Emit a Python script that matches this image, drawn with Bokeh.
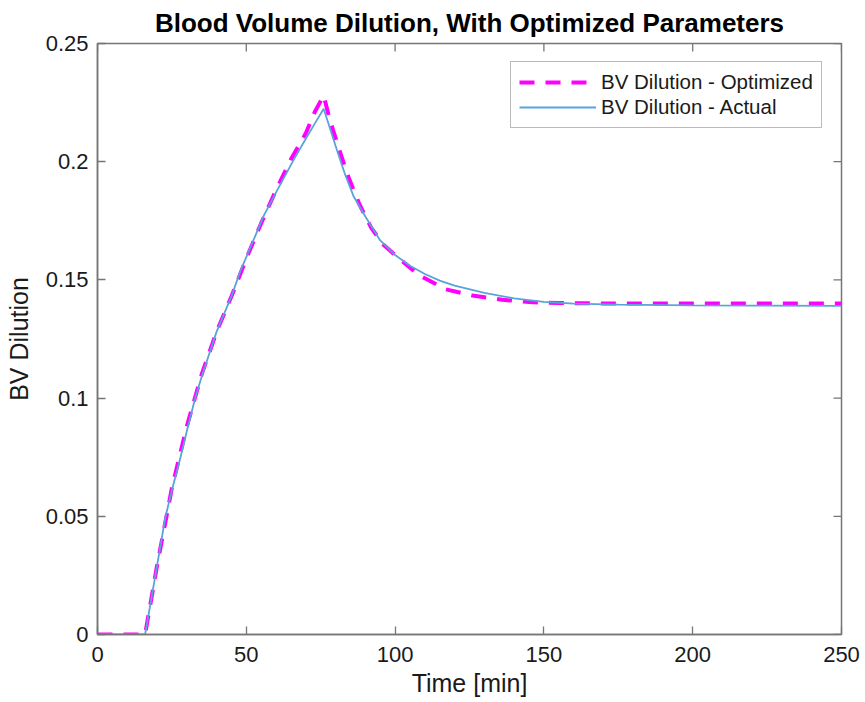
import math
from bokeh.plotting import figure
from bokeh.models import (FixedTicker, Range1d, Legend, LegendItem)
from bokeh.embed import file_html
from bokeh.resources import INLINE

# ---- data ----
t_actual = [0, 5, 10, 16, 20, 22.8, 25, 27.9, 30, 32.9, 35, 40, 45, 48, 52, 56, 60, 66, 70, 73, 76,
            78, 80.5, 83, 86, 90, 95, 100, 105, 110, 115, 120, 130, 140, 150, 160, 175, 200, 225, 250]
bv_actual = [0, 0, 0, 0, 0.029, 0.0496, 0.061, 0.075, 0.086, 0.1004, 0.109, 0.128, 0.143, 0.1537,
             0.1656, 0.1775, 0.187, 0.201, 0.2097, 0.2161, 0.2224,
             0.2146, 0.2047, 0.1953, 0.1855, 0.1768, 0.1667, 0.1605, 0.156, 0.1525, 0.1497, 0.1476,
             0.1445, 0.1422, 0.1407, 0.14, 0.1395, 0.1392, 0.1391, 0.139]

t_opt = [0, 5, 10, 16, 20, 25, 30, 35, 40, 45, 50, 55, 60, 65, 70, 73, 76,
         78, 81, 84, 88, 92, 96, 100, 108, 117, 126, 136, 145, 155, 175, 200, 225, 250]
bv_opt = [0, 0, 0, 0, 0.029, 0.062, 0.088, 0.110, 0.128, 0.143, 0.159, 0.174, 0.188, 0.201, 0.212,
          0.221, 0.228,
          0.218, 0.206, 0.1945, 0.182, 0.172, 0.165, 0.1605, 0.152, 0.146, 0.1434, 0.1416, 0.1406,
          0.1402, 0.14, 0.14, 0.14, 0.14]

x_ticks = [0, 50, 100, 150, 200, 250]
x_tick_labels = ["0", "50", "100", "150", "200", "250"]
y_ticks = [0, 0.05, 0.1, 0.15, 0.2, 0.25]
y_tick_labels = ["0", "0.05", "0.1", "0.15", "0.2", "0.25"]

title_text = "Blood Volume Dilution, With Optimized Parameters"
x_label = "Time [min]"
y_label = "BV Dilution"
label_opt = "BV Dilution - Optimized"
label_act = "BV Dilution - Actual"

FONT = "Liberation Sans"
AX_COL = "#767676"
TXT_COL = "#1a1a1a"

p = figure(width=865, height=702, output_backend="svg", toolbar_location=None,
           x_range=Range1d(x_ticks[0], x_ticks[-1]), y_range=Range1d(y_ticks[0], y_ticks[-1]),
           min_border_left=97, min_border_right=24, min_border_top=43, min_border_bottom=68,
           title=title_text)
p.background_fill_color = "white"
p.border_fill_color = "white"
p.outline_line_color = AX_COL
p.outline_line_width = 1.5
p.xgrid.visible = False
p.ygrid.visible = False

p.title.text_font = FONT
p.title.text_font_size = "26px"
p.title.text_font_style = "bold"
p.title.text_color = "black"
p.title.align = "center"
p.title.standoff = 11

def style_axis(ax, ticks, labels):
    ax.ticker = FixedTicker(ticks=ticks)
    ax.major_label_overrides = {t: l for t, l in zip(ticks, labels)}
    ax.axis_line_color = AX_COL
    ax.axis_line_width = 1.5
    ax.major_tick_line_color = AX_COL
    ax.major_tick_line_width = 1.3
    ax.major_tick_in = 8
    ax.major_tick_out = 0
    ax.minor_tick_line_color = None
    ax.major_label_text_font = FONT
    ax.major_label_text_color = TXT_COL
    ax.major_label_text_font_size = "22px"
    ax.axis_label_text_font = FONT
    ax.axis_label_text_font_size = "25px"
    ax.axis_label_text_font_style = "normal"
    ax.axis_label_text_color = TXT_COL

style_axis(p.xaxis[0], x_ticks, x_tick_labels)
style_axis(p.yaxis[0], y_ticks, y_tick_labels)
p.xaxis[0].axis_label = x_label
p.yaxis[0].axis_label = y_label
p.xaxis[0].major_label_standoff = 12
p.xaxis[0].axis_label_standoff = 4
p.yaxis[0].major_label_standoff = 9
p.yaxis[0].axis_label_standoff = 10

# inward tick marks on the top and right edges of the box (clipped to the frame)
p.scatter([t for t in x_ticks], [y_ticks[-1]] * len(x_ticks), marker="dash", size=16,
          angle=math.pi / 2, line_color=AX_COL, line_width=1.3)
p.scatter([x_ticks[-1]] * len(y_ticks), [v for v in y_ticks], marker="dash", size=16,
          angle=0, line_color=AX_COL, line_width=1.3)

r_opt = p.line(t_opt, bv_opt, line_color="#ff00ff", line_width=4, line_dash="15 11")
r_act = p.line(t_actual, bv_actual, line_color="#5aa3da", line_width=1.8)

legend = Legend(items=[LegendItem(label=label_opt, renderers=[r_opt]),
                       LegendItem(label=label_act, renderers=[r_act])],
                location=(413, 506))
legend.label_text_font = FONT
legend.label_text_font_size = "20.5px"
legend.label_text_color = TXT_COL
legend.glyph_width = 77
legend.glyph_height = 22
legend.label_height = 22
legend.label_standoff = 5
legend.padding = 8
legend.spacing = 1
legend.margin = 0
legend.border_line_color = AX_COL
legend.border_line_width = 1.5
legend.background_fill_color = "white"
legend.background_fill_alpha = 1.0
p.add_layout(legend, "center")

open("out.html", "w").write(file_html(p, INLINE))
